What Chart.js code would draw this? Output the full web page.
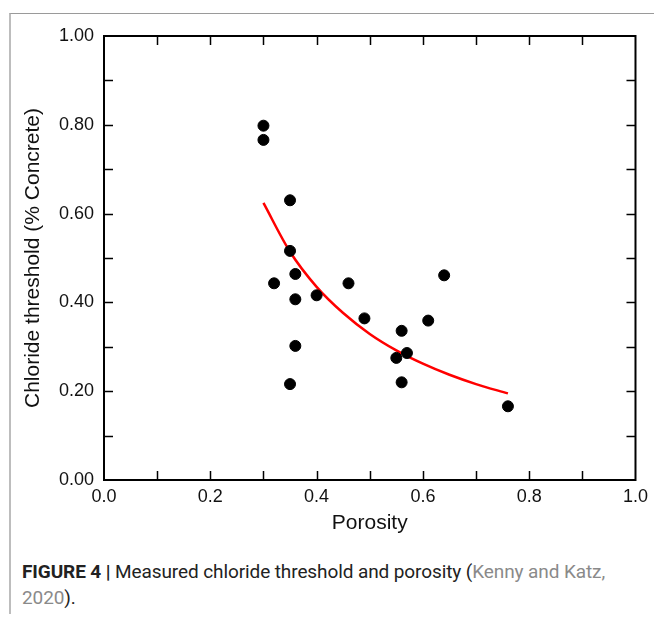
<!DOCTYPE html>
<html>
<head>
<meta charset="utf-8">
<script src="https://cdn.jsdelivr.net/npm/chart.js@4.4.1/dist/chart.umd.min.js"></script>
<style>
    body { margin: 0; background: #fff; }
    #frame { position: absolute; left: 9px; top: 13px; width: 645px; height: 600px;
             border-left: 2px solid #bdbdbd; border-top: 1px solid #9a9a9a; }
    #wrap { position: absolute; left: 0; top: 0; width: 654px; height: 540px; }
    #caption { position: absolute; left: 22px; top: 559px; font-family: Roboto, sans-serif;
               font-size: 19px; line-height: 26px; color: #222; letter-spacing: -0.1px; }
    #caption b { font-weight: bold; }
    #caption .ref { color: #8a8a8a; }
</style>
</head>
<body>
<div id="frame"></div>
<div id="wrap"><canvas id="scatterChart" width="654" height="540"></canvas></div>
<div id="caption"><b>FIGURE 4 |</b> Measured chloride threshold and porosity (<span class="ref">Kenny and Katz,</span><br><span class="ref">2020</span>).</div>
<script>
// measured samples
var porosity = [0.30, 0.30, 0.35, 0.35, 0.32, 0.36, 0.36, 0.40, 0.46, 0.36,
                0.35, 0.49, 0.56, 0.61, 0.64, 0.55, 0.57, 0.56, 0.76];
var threshold = [0.798, 0.766, 0.630, 0.516, 0.443, 0.464, 0.407, 0.416, 0.443, 0.302,
                 0.216, 0.364, 0.336, 0.359, 0.461, 0.275, 0.286, 0.220, 0.166];

// fitted trend line
var fitX = [0.30, 0.35, 0.40, 0.45, 0.50, 0.55, 0.60, 0.65, 0.70, 0.76];
var fitY = [0.624, 0.514, 0.435, 0.376, 0.329, 0.292, 0.262, 0.237, 0.216, 0.195];

var xTicks = [0.0, 0.2, 0.4, 0.6, 0.8, 1.0];
var yTicks = [0.00, 0.20, 0.40, 0.60, 0.80, 1.00];

var points = porosity.map(function (x, i) { return {x: x, y: threshold[i]}; });
var fit = fitX.map(function (x, i) { return {x: x, y: fitY[i]}; });

var axisFont = "'Liberation Sans', Arial, sans-serif";

// box around the plot plus inward ticks on all four sides
var boxTicks = {
    id: 'boxTicks',
    afterDatasetsDraw: function (chart) {
        var c = chart.ctx, a = chart.chartArea;
        var xs = chart.scales.x, ys = chart.scales.y;
        c.save();
        c.strokeStyle = '#000';
        c.lineWidth = 1.5;
        for (var v = 1; v < 10; v++) {
            var px = Math.round(xs.getPixelForValue(v / 10)) + 0.5;
            var py = Math.round(ys.getPixelForValue(v / 10)) + 0.5;
            c.beginPath();
            c.moveTo(px, a.bottom); c.lineTo(px, a.bottom - 9);
            c.moveTo(px, a.top); c.lineTo(px, a.top + 9);
            c.moveTo(a.left, py); c.lineTo(a.left + 9, py);
            c.moveTo(a.right, py); c.lineTo(a.right - 9, py);
            c.stroke();
        }
        c.lineWidth = 2;
        c.strokeRect(a.left, a.top, a.right - a.left, a.bottom - a.top);
        c.restore();
    }
};

var ctx = document.getElementById('scatterChart').getContext('2d');
new Chart(ctx, {
    type: 'scatter',
    data: {
        datasets: [
            {
                label: 'Measured',
                data: points,
                backgroundColor: '#000',
                borderColor: '#000',
                pointRadius: 5.5,
                pointHoverRadius: 5.5
            },
            {
                label: 'Fit',
                type: 'line',
                data: fit,
                borderColor: '#ff0000',
                borderWidth: 2.5,
                pointRadius: 0,
                fill: false,
                cubicInterpolationMode: 'monotone'
            }
        ]
    },
    options: {
        responsive: false,
        animation: false,
        layout: {padding: {left: 17, top: 36, right: 18, bottom: 0}},
        plugins: {legend: {display: false}, tooltip: {enabled: false}},
        scales: {
            x: {
                type: 'linear', min: 0, max: 1,
                afterBuildTicks: function (s) { s.ticks = xTicks.map(function (v) { return {value: v}; }); },
                afterFit: function (s) { s.height = 60; },
                grid: {display: false, drawTicks: false},
                border: {display: false},
                ticks: {
                    color: '#111', padding: 6, maxRotation: 0,
                    font: {family: axisFont, size: 18},
                    callback: function (v) { return v.toFixed(1); }
                },
                title: {display: true, text: 'Porosity', color: '#111', padding: 4,
                        font: {family: axisFont, size: 21}}
            },
            y: {
                type: 'linear', min: 0, max: 1,
                afterBuildTicks: function (s) { s.ticks = yTicks.map(function (v) { return {value: v}; }); },
                afterFit: function (s) { s.width = 87; },
                grid: {display: false, drawTicks: false},
                border: {display: false},
                ticks: {
                    color: '#111', padding: 10,
                    font: {family: axisFont, size: 18},
                    callback: function (v) { return v.toFixed(2); }
                },
                title: {display: true, text: 'Chloride threshold (% Concrete)', color: '#111', padding: 4,
                        font: {family: axisFont, size: 21}}
            }
        }
    },
    plugins: [boxTicks]
});
</script>
</body>
</html>
